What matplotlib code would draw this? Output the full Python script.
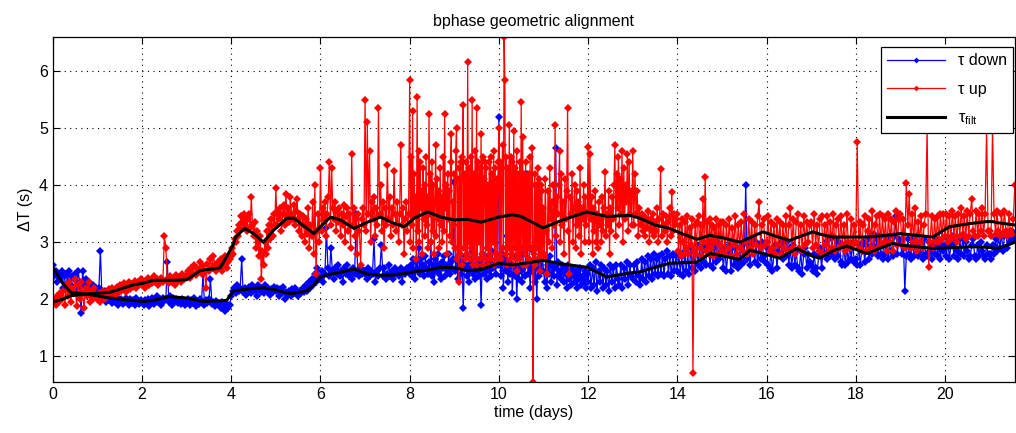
import numpy as np
import matplotlib.pyplot as plt

plt.rcParams['font.family'] = ['Liberation Sans', 'DejaVu Sans']
plt.rcParams['mathtext.fontset'] = 'custom'
plt.rcParams['mathtext.rm'] = 'Liberation Sans'
plt.rcParams['mathtext.it'] = 'Liberation Sans'

# tau up, one list per day (samples spread evenly over the day)
up_days = [
    [1.95, 2.0, 1.9, 2.05, 1.95, 2.1, 2.0, 2.15, 1.9, 2.25, 2.05, 2.3, 1.95, 2.2, 2.1, 2.35, 1.88, 2.25, 2.0, 2.3,
     2.1, 1.85, 2.2, 2.05, 2.3, 1.95, 2.15, 2.0, 2.2, 2.05],
    [2.0, 2.1, 1.95, 2.08, 2.15, 2.0, 2.12, 2.05, 2.18, 2.1, 2.2, 2.05, 2.15, 2.22, 2.1, 2.25, 2.15, 2.2, 2.28, 2.12,
     2.25, 2.3, 2.18, 2.27, 2.22, 2.32, 2.2, 2.3, 2.25, 2.35],
    [2.25, 2.32, 2.2, 2.3, 2.38, 2.25, 2.33, 2.28, 2.4, 2.3, 2.35, 2.25, 2.32, 2.38, 2.3, 3.1, 2.9, 2.35, 2.28, 2.4,
     2.3, 2.36, 2.25, 2.42, 2.32, 2.38, 2.3, 2.45, 2.35, 2.4],
    [2.4, 2.5, 2.38, 2.55, 2.45, 2.6, 2.42, 2.55, 2.5, 2.65, 2.45, 2.58, 2.5, 2.2, 2.62, 2.5, 2.7, 2.55, 2.75, 2.6,
     2.5, 2.65, 2.55, 2.7, 2.5, 2.6, 2.75, 2.55, 2.65, 2.7],
    [2.75, 2.9, 2.8, 3.05, 3.0, 3.2, 3.1, 3.3, 3.25, 3.45, 3.35, 3.5, 3.3, 3.45, 3.2, 3.4, 3.5, 3.25, 3.8, 3.3,
     3.1, 3.35, 2.9, 3.2, 3.0, 2.75, 3.1, 2.35, 2.85, 2.6, 3.0, 2.8, 3.2, 2.9, 3.3, 3.05, 3.4, 3.1, 3.5, 3.3],
    [3.95, 3.3, 3.55, 3.4, 3.6, 3.2, 3.5, 3.65, 3.3, 3.85, 3.45, 3.6, 3.35, 3.8, 3.5, 3.4, 3.65, 3.3, 3.55, 3.75,
     3.4, 3.2, 3.5, 3.1, 3.45, 3.3, 3.0, 3.4, 3.15, 3.6, 2.9, 3.3, 3.1, 3.7, 2.8, 4.0, 2.45, 3.2, 3.5, 3.0],
    [4.3, 3.2, 3.6, 3.4, 3.7, 3.1, 3.5, 3.8, 4.4, 3.3, 4.3, 3.6, 3.4, 3.7, 3.2, 3.55, 3.35, 3.6, 3.1, 3.5,
     3.3, 3.65, 3.0, 3.45, 3.6, 3.2, 3.5, 2.9, 4.55, 3.3, 3.6, 3.1, 3.4, 2.8, 3.5, 3.2, 2.6, 3.4, 3.6, 3.3],
    [5.5, 3.2, 5.1, 3.5, 4.6, 3.0, 3.7, 3.4, 3.8, 3.1, 3.6, 3.3, 5.35, 3.5, 4.0, 3.2, 3.7, 2.9, 3.6, 3.3,
     4.35, 3.4, 3.8, 3.1, 3.6, 3.3, 4.25, 3.5, 3.2, 3.7, 3.0, 3.5, 4.7, 3.3, 3.6, 2.8, 3.4, 3.7, 3.2, 3.5],
    [5.85, 3.0, 4.5, 3.3, 5.3, 2.9, 4.2, 3.5, 3.8, 2.7, 5.55, 3.2, 4.6, 3.0, 4.4, 3.6, 3.9, 2.8, 4.3, 3.4,
     4.0, 3.1, 4.5, 3.3, 3.8, 2.9, 5.25, 3.5, 4.2, 3.0, 4.4, 3.2, 4.0, 2.8, 3.7, 4.7, 3.1, 4.1, 3.4, 3.9,
     2.9, 4.3, 3.3, 3.8, 3.0, 4.5, 3.2, 5.25, 3.6, 4.0, 2.8, 4.2, 3.4, 3.9, 3.1, 4.4, 4.9, 3.0, 3.7, 3.3],
    [4.2, 2.9, 4.6, 5.0, 2.7, 4.1, 2.3, 4.3, 2.8, 4.4, 2.6, 4.5, 5.4, 2.9, 4.2, 2.7, 4.4, 2.8, 6.15, 3.0,
     4.3, 2.7, 4.5, 2.9, 5.5, 2.6, 4.2, 2.8, 4.6, 2.7, 5.35, 2.6, 4.4, 3.0, 4.3, 2.7, 4.9, 2.8, 4.5, 2.6,
     4.1, 4.4, 2.7, 4.3, 2.9, 4.0, 2.6, 4.4, 2.8, 4.5, 2.7, 4.2, 3.0, 4.6, 2.6, 4.3, 2.8, 4.1, 2.7, 4.4],
    [5.0, 2.8, 4.4, 2.7, 4.3, 4.7, 2.9, 6.6, 5.85, 2.8, 4.5, 2.6, 4.3, 2.9, 5.05, 2.7, 4.5, 2.8, 4.4, 2.6,
     4.95, 2.9, 4.3, 2.7, 4.6, 2.5, 4.2, 2.8, 4.4, 2.7, 5.45, 2.9, 4.85, 2.6, 4.2, 2.8, 4.4, 2.6, 4.1, 2.9,
     4.2, 2.7, 4.5, 2.9, 4.0, 4.65, 0.55, 2.8, 4.2, 2.6, 4.0, 2.9, 4.3, 2.7, 4.1, 2.5, 4.0, 2.8, 3.9, 2.7],
    [3.6, 2.8, 4.1, 3.2, 2.45, 3.9, 3.0, 4.3, 3.4, 3.7, 2.9, 4.0, 3.3, 5.05, 3.1, 3.8, 3.5, 4.0, 4.6, 3.0,
     4.2, 3.3, 3.7, 2.8, 4.1, 3.4, 3.9, 5.35, 3.2, 2.45, 3.8, 3.5, 4.2, 3.0, 3.6, 4.0, 2.9, 3.9, 3.3, 3.7,
     3.1, 4.3, 2.8, 3.6, 3.4, 4.0, 3.0, 3.8, 3.3, 3.5],
    [4.67, 3.0, 4.55, 3.4, 3.8, 2.8, 3.6, 3.2, 3.9, 3.0, 3.5, 2.9, 3.7, 3.3, 3.4, 3.0, 3.8, 3.2, 3.6, 4.23,
     3.1, 3.5, 3.3, 3.9, 2.8, 3.6, 3.2, 3.8, 3.4, 4.0, 4.7, 3.1, 4.2, 3.6, 4.5, 3.3, 4.1, 3.5, 4.6, 3.0,
     4.3, 3.4, 4.0, 3.7, 4.55, 3.2, 4.4, 3.5, 3.9, 3.3],
    [4.6, 3.3, 4.2, 3.5, 3.9, 3.1, 3.6, 3.3, 3.5, 3.2, 3.45, 3.1, 3.4, 3.25, 3.55, 3.0, 3.4, 3.2, 3.5, 3.1,
     3.35, 3.2, 3.6, 3.0, 3.4, 4.28, 3.1, 3.5, 3.3, 3.2, 3.45, 3.0, 3.35, 3.6, 3.1, 3.88, 3.2, 3.5, 3.3, 3.4],
    [3.5, 2.85, 3.3, 2.75, 3.4, 3.0, 2.8, 3.35, 2.9, 3.45, 2.8, 3.25, 2.95, 3.4, 0.7, 2.85, 3.3, 2.8, 3.35, 3.45,
     2.9, 3.3, 2.75, 3.75, 3.0, 4.14, 2.85, 3.35, 2.8, 3.4, 2.9, 3.3, 2.75, 3.25, 3.0, 3.4, 2.8, 3.3, 2.95, 3.35],
    [2.85, 3.35, 2.8, 3.3, 2.9, 3.4, 2.75, 3.25, 2.95, 3.45, 2.8, 3.3, 2.9, 3.35, 2.85, 3.5, 3.0, 2.8, 3.4, 2.9,
     3.35, 2.8, 3.3, 2.95, 3.45, 3.7, 2.9, 3.3, 3.4, 2.95],
    [3.0, 3.45, 2.85, 3.35, 2.9, 3.3, 2.8, 3.4, 2.95, 3.35, 2.8, 3.3, 2.9, 3.45, 2.85, 3.3, 3.6, 2.9, 3.4, 2.8,
     3.35, 3.5, 2.9, 3.3, 2.85, 3.45, 2.95, 3.35, 3.0, 3.3],
    [3.35, 2.9, 3.5, 2.95, 3.3, 2.85, 3.4, 3.45, 2.8, 3.3, 2.95, 3.45, 2.85, 3.35, 2.9, 3.5, 2.85, 3.3, 3.4, 2.9,
     3.45, 2.95, 3.3, 2.85, 3.5, 3.0, 2.9, 3.4, 2.95, 3.3],
    [3.0, 4.75, 2.9, 3.35, 2.85, 3.3, 3.45, 2.85, 3.2, 3.4, 2.9, 3.55, 2.85, 3.3, 3.45, 2.9, 3.5, 2.95, 3.45, 3.0,
     3.4, 2.85, 3.5, 3.0, 3.4, 2.85, 3.35, 3.55, 2.95, 3.4],
    [3.5, 2.95, 3.4, 2.9, 4.03, 3.3, 3.85, 2.9, 3.5, 3.0, 3.6, 2.85, 3.35, 3.0, 3.45, 2.9, 3.3, 3.5, 5.0, 2.56,
     3.0, 3.45, 2.9, 3.4, 3.0, 3.45, 3.0, 3.5, 3.05, 3.5],
    [3.1, 3.5, 3.0, 3.45, 3.05, 3.55, 3.1, 3.45, 3.0, 3.5, 3.1, 3.6, 3.15, 3.45, 3.05, 3.55, 3.1, 3.5, 3.75, 3.2,
     3.1, 3.55, 3.1, 3.5, 3.2, 3.6, 3.1, 3.5, 5.0, 3.2],
    [3.2, 3.1, 5.0, 3.5, 3.15, 3.55, 3.2, 3.1, 3.5, 3.15, 3.55, 3.2, 3.1, 3.5, 3.2, 3.15, 3.4, 4.0],
]

# tau down, one list per day
down_days = [
    [2.6, 2.4, 2.5, 2.3, 2.45, 2.35, 2.5, 2.2, 2.4, 2.45, 2.3, 2.5, 2.25, 2.4, 2.35, 2.45, 2.2, 2.5, 2.3, 1.75,
     2.5, 2.25, 2.35, 2.15, 2.3, 2.2, 2.1, 2.25, 2.15, 2.2],
    [2.1, 2.2, 2.85, 2.05, 2.0, 2.15, 1.95, 2.05, 1.98, 2.02, 1.93, 2.0, 1.95, 2.03, 1.9, 1.98, 2.0, 1.92, 1.97, 2.02,
     1.95, 1.9, 2.0, 1.93, 1.98, 1.9, 2.02, 1.95, 1.92, 1.98],
    [1.95, 1.9, 1.98, 1.93, 2.0, 1.88, 1.96, 2.02, 1.92, 1.99, 2.05, 1.95, 2.0, 1.9, 2.02, 1.97, 2.0, 2.65, 1.95, 2.05,
     1.9, 2.02, 1.97, 2.0, 1.93, 1.98, 1.92, 2.0, 1.95, 1.9],
    [1.95, 2.0, 1.9, 1.98, 1.93, 2.02, 1.88, 1.96, 1.92, 2.0, 1.95, 2.45, 1.9, 1.98, 1.93, 2.0, 2.35, 1.92, 1.95, 1.88,
     1.97, 1.92, 1.9, 1.85, 1.95, 1.88, 1.8, 1.92, 1.85, 1.9],
    [2.05, 2.15, 2.2, 2.1, 2.25, 2.15, 2.2, 2.7, 2.12, 2.2, 2.08, 2.18, 2.22, 2.1, 2.25, 2.15, 2.2, 2.05, 2.25, 2.18,
     2.12, 2.2, 2.1, 2.25, 2.15, 2.2, 2.08, 2.18, 2.12, 2.22],
    [2.15, 2.2, 2.05, 2.18, 2.1, 2.22, 2.0, 2.12, 2.08, 2.15, 2.05, 2.18, 2.1, 2.2, 2.12, 2.05, 2.15, 2.1, 2.2, 2.12,
     2.25, 2.15, 2.3, 2.2, 2.35, 2.25, 2.45, 2.3, 2.55, 2.4],
    [2.35, 2.5, 2.3, 2.45, 3.25, 2.55, 2.4, 2.9, 2.5, 2.35, 2.55, 2.45, 2.6, 2.4, 2.5, 2.3, 2.55, 2.45, 2.6, 2.4,
     2.5, 2.35, 2.55, 2.45, 3.5, 2.5, 2.4, 2.55, 2.45, 2.5],
    [2.45, 2.35, 2.55, 2.4, 2.5, 2.45, 3.05, 2.3, 2.5, 2.4, 2.55, 2.95, 2.4, 2.55, 2.35, 2.45, 2.6, 2.4, 2.5, 2.35,
     2.55, 2.45, 2.5, 2.4, 2.55, 2.3, 2.5, 2.45, 2.55, 2.5],
    [2.45, 2.6, 2.4, 2.7, 2.5, 2.35, 2.65, 2.55, 2.9, 2.45, 2.7, 2.5, 2.6, 2.4, 2.75, 2.55, 2.45, 2.65, 2.5, 3.0,
     2.4, 2.6, 2.3, 2.7, 2.5, 2.8, 2.45, 2.6, 2.35, 2.65, 2.55, 2.75, 2.4, 2.6, 2.5, 2.8, 2.45, 2.65, 2.55, 2.7],
    [4.05, 2.5, 2.7, 2.35, 2.6, 2.8, 2.45, 2.65, 1.84, 2.55, 2.75, 2.4, 2.6, 2.3, 2.7, 2.5, 2.85, 2.45, 2.6, 2.35,
     2.7, 2.5, 2.4, 2.65, 1.9, 2.55, 2.8, 2.45, 2.6, 2.35, 2.75, 2.5, 2.65, 2.4, 2.85, 2.55, 2.6, 2.45, 2.7, 2.6],
    [5.2, 2.6, 2.4, 2.8, 2.2, 2.7, 2.5, 3.1, 2.3, 2.65, 2.45, 2.9, 2.1, 2.6, 2.4, 2.75, 2.0, 2.55, 2.35, 2.7,
     2.5, 2.3, 2.8, 2.4, 2.6, 4.2, 2.45, 2.7, 2.2, 2.6, 2.5, 2.85, 2.3, 2.55, 2.0, 2.7, 2.4, 2.6, 2.5, 2.75],
    [2.5, 2.3, 2.7, 2.2, 2.6, 2.45, 2.75, 2.3, 2.6, 2.4, 2.55, 4.65, 2.25, 2.65, 2.4, 2.5, 2.35, 2.6, 2.3, 2.55,
     2.45, 2.2, 2.6, 2.35, 2.5, 2.25, 2.55, 2.4, 2.3, 2.5, 2.2, 2.45, 2.35, 2.55, 2.25, 2.4, 2.3, 2.5, 2.2, 2.45],
    [2.3, 2.6, 2.2, 2.55, 2.25, 2.65, 2.15, 2.5, 2.3, 2.6, 2.2, 2.55, 2.25, 2.5, 2.15, 2.6, 2.3, 2.55, 2.2, 2.6,
     2.35, 2.25, 2.6, 2.2, 2.55, 2.35, 2.65, 2.25, 2.6, 2.4],
    [2.35, 2.6, 2.3, 2.65, 2.4, 2.25, 2.7, 2.35, 2.65, 2.3, 2.75, 2.4, 2.7, 2.35, 2.8, 2.45, 2.7, 2.4, 2.75, 2.45,
     2.8, 2.4, 2.7, 2.85, 2.45, 2.75, 2.4, 2.8, 2.5, 2.75],
    [2.5, 2.8, 2.45, 2.75, 2.4, 2.85, 2.5, 2.8, 2.45, 2.9, 2.55, 2.85, 2.5, 2.95, 2.6, 2.9, 2.55, 2.95, 2.65, 2.6,
     2.9, 3.0, 2.6, 2.95, 2.55, 2.9, 2.65, 3.0, 2.7, 2.95],
    [2.85, 2.55, 2.9, 2.5, 2.8, 2.95, 2.5, 2.9, 2.6, 2.95, 2.65, 2.55, 2.9, 2.6, 2.95, 2.65, 4.0, 2.7, 3.0, 2.6,
     2.95, 3.05, 2.65, 3.0, 2.6, 2.95, 2.7, 3.0, 2.75, 2.65],
    [2.9, 2.6, 2.55, 2.85, 2.5, 2.8, 2.95, 2.55, 2.85, 2.95, 3.0, 2.7, 3.05, 2.75, 3.0, 2.6, 2.9, 2.55, 2.95, 2.6,
     2.85, 2.55, 2.5, 2.85, 2.45, 2.8, 2.9, 2.55, 2.8, 2.65],
    [2.6, 2.5, 2.8, 2.55, 2.45, 2.75, 2.9, 2.55, 2.85, 2.95, 3.0, 2.7, 3.05, 2.75, 3.1, 2.8, 2.7, 3.05, 2.75, 3.0,
     2.65, 2.6, 2.95, 2.6, 2.9, 2.65, 2.95, 2.7, 3.0, 2.65],
    [2.7, 2.6, 2.95, 2.6, 2.85, 3.0, 2.65, 2.95, 3.05, 2.7, 3.1, 2.8, 3.15, 2.85, 3.05, 2.75, 3.1, 2.8, 2.7, 3.1,
     2.8, 3.05, 2.7, 3.1, 2.85, 2.75, 3.1, 3.45, 2.8, 3.05],
    [3.0, 2.8, 3.05, 2.15, 2.75, 3.05, 2.8, 2.7, 3.05, 2.75, 2.95, 3.1, 2.75, 3.0, 2.8, 2.7, 3.05, 2.8, 2.75, 3.0,
     2.85, 2.7, 2.95, 2.8, 3.05, 2.75, 2.95, 2.7, 3.05, 2.85],
    [2.95, 2.75, 3.05, 2.7, 2.95, 3.1, 2.75, 3.0, 2.85, 2.7, 3.05, 2.8, 3.1, 2.75, 3.0, 2.85, 2.7, 2.75, 2.95, 3.05,
     2.75, 2.7, 2.95, 2.75, 3.0, 2.85, 2.75, 2.7, 2.95, 2.8],
    [2.8, 2.7, 2.95, 2.8, 3.05, 2.85, 3.1, 2.9, 3.15, 2.85, 3.1, 3.15, 2.9, 3.15, 3.0, 3.2, 3.05, 3.15],
]

# the record stops at 21.6 days, so the last day only spans 0.6 day
day_span = [1.0] * 21 + [0.6]

# filtered curves
filt_t = [0.0, 0.22, 0.4, 0.75, 1.28, 1.8, 2.02, 2.25, 2.62, 2.7, 3.0, 3.3, 3.45, 3.6, 3.75, 3.9, 4.04,
          4.1, 4.3, 4.5, 4.72, 4.95, 5.25, 5.4, 5.7, 5.85, 6.0, 6.22, 6.45, 6.75, 7.05, 7.35, 7.58,
          7.88, 8.1, 8.4, 8.7, 9.0, 9.3, 9.6, 10.0, 10.3, 10.5, 10.99, 11.4, 11.97, 12.42, 12.94,
          13.16, 13.5, 13.83, 14.1, 14.44, 14.73, 15.0, 15.4, 15.63, 15.92, 16.3, 16.52, 16.68,
          17.04, 17.2, 17.49, 17.8, 18.25, 18.83, 18.99, 19.73, 20.1, 20.6, 20.94, 21.07, 21.19, 21.57]
filt_up = [1.95, 2.0, 2.06, 2.09, 2.12, 2.25, 2.28, 2.33, 2.33, 2.33, 2.34, 2.5, 2.52, 2.53, 2.55, 2.75, 2.95,
           3.09, 3.24, 3.15, 3.0, 3.21, 3.42, 3.42, 3.24, 3.15, 3.27, 3.44, 3.39, 3.24, 3.35, 3.44, 3.35,
           3.27, 3.42, 3.53, 3.44, 3.39, 3.4, 3.35, 3.44, 3.48, 3.45, 3.25, 3.38, 3.53, 3.45, 3.47,
           3.42, 3.3, 3.24, 3.15, 3.05, 3.12, 3.08, 3.0, 3.08, 3.18, 3.08, 3.03, 3.08,
           3.18, 3.14, 3.09, 3.09, 3.09, 3.13, 3.15, 3.09, 3.27, 3.33, 3.36, 3.36, 3.34, 3.3]
filt_down = [2.56, 2.28, 2.12, 2.09, 2.02, 1.98, 1.96, 1.98, 2.05, 2.04, 2.02, 1.97, 1.96, 1.97, 1.97, 1.98, 2.14,
             2.15, 2.17, 2.19, 2.2, 2.17, 2.11, 2.1, 2.15, 2.25, 2.39, 2.44, 2.47, 2.53, 2.44, 2.42, 2.42,
             2.45, 2.48, 2.51, 2.56, 2.55, 2.5, 2.52, 2.63, 2.6, 2.62, 2.68, 2.62, 2.56, 2.39, 2.46,
             2.48, 2.56, 2.63, 2.64, 2.65, 2.8, 2.76, 2.7, 2.86, 2.8, 2.72, 2.82, 2.89,
             2.75, 2.72, 2.85, 2.93, 2.8, 2.98, 2.95, 2.89, 2.9, 2.92, 2.91, 2.9, 2.89, 3.0]


def day_times(days):
    t = []
    for d, vals in enumerate(days):
        t.extend(d + np.linspace(0, day_span[d], len(vals), endpoint=False))
    return np.array(t)


t_up = day_times(up_days)
tau_up = np.concatenate(up_days)
t_down = day_times(down_days)
tau_down = np.concatenate(down_days)

fig = plt.figure(figsize=(10.16, 4.33), dpi=100)
ax = fig.add_axes([0.052, 0.118, 0.947, 0.797])

ax.plot(t_down, tau_down, color='#0000ff', marker='D', markersize=4.2, markeredgewidth=0,
        linewidth=0.9, label='τ down')
ax.plot(t_up, tau_up, color='#ff0000', marker='D', markersize=4.2, markeredgewidth=0,
        linewidth=0.9, label='τ up')
ax.plot(filt_t, filt_up, color='black', linewidth=2.2, label=r'τ$_{\mathrm{filt}}$')
ax.plot(filt_t, filt_down, color='black', linewidth=2.2)

ax.set_xlim(0, 21.57)
ax.set_ylim(0.55, 6.6)
ax.set_xticks(np.arange(0, 21, 2))
ax.set_yticks([1, 2, 3, 4, 5, 6])
ax.tick_params(direction='in', top=True, right=True, length=5, labelsize=11.5)
ax.grid(True, color='black', linestyle=(0, (1, 4)), linewidth=0.8)
for s in ax.spines.values():
    s.set_linewidth(0.9)

ax.set_title('bphase geometric alignment', fontsize=11.5, pad=8)
ax.set_xlabel('time (days)', fontsize=11.5, labelpad=2)
ax.set_ylabel('ΔT (s)', fontsize=11.5)

leg = ax.legend(loc='upper right', bbox_to_anchor=(0.998, 0.971), borderaxespad=0,
                fontsize=11.5, fancybox=False, framealpha=1, edgecolor='black',
                handlelength=3.6, labelspacing=0.85, markerscale=0.7)
leg.get_frame().set_linewidth(0.9)

fig.savefig('out.png', dpi=100)
